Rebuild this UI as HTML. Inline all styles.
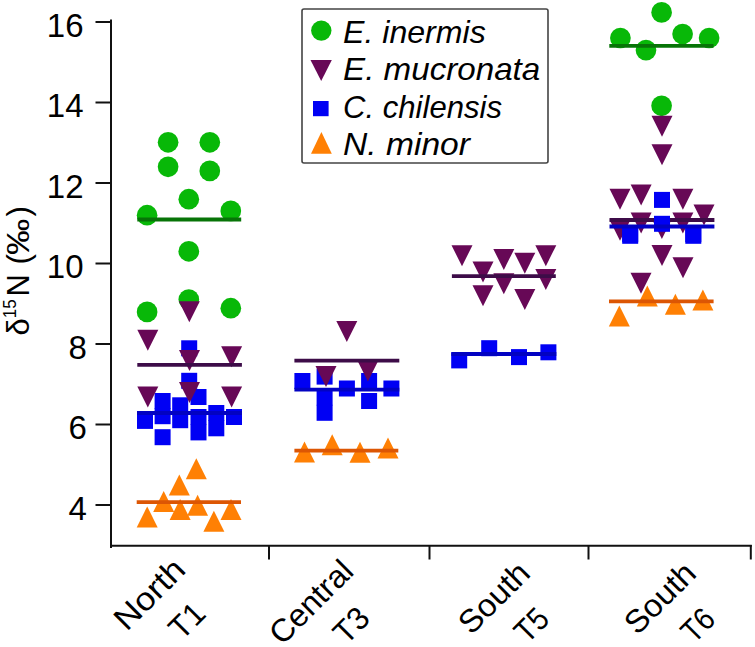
<!DOCTYPE html>
<html><head><meta charset="utf-8"><style>
html,body{margin:0;padding:0;background:#fff;}
body{width:755px;height:647px;overflow:hidden;}
svg{display:block;}
text{font-family:"Liberation Sans",sans-serif;fill:#000;}
.tk{font-size:33px;}
.lg{font-size:30.5px;font-style:italic;}
.xl{font-size:32px;}
.yt{font-size:25px;}
</style></head><body>
<svg width="755" height="647" viewBox="0 0 755 647">
<rect width="755" height="647" fill="#fff"/>
<path d="M111 19.5V548" stroke="#111" stroke-width="2"/>
<path d="M110 545.7H751.8" stroke="#111" stroke-width="2"/>
<path d="M95.5 22H111" stroke="#111" stroke-width="2"/>
<path d="M95.5 102.5H111" stroke="#111" stroke-width="2"/>
<path d="M95.5 183H111" stroke="#111" stroke-width="2"/>
<path d="M95.5 263.5H111" stroke="#111" stroke-width="2"/>
<path d="M95.5 344H111" stroke="#111" stroke-width="2"/>
<path d="M95.5 424.5H111" stroke="#111" stroke-width="2"/>
<path d="M95.5 505H111" stroke="#111" stroke-width="2"/>
<path d="M269 545V559.5" stroke="#111" stroke-width="2"/>
<path d="M429.5 545V559.5" stroke="#111" stroke-width="2"/>
<path d="M588.5 545V559.5" stroke="#111" stroke-width="2"/>
<path d="M750.8 545V559.5" stroke="#111" stroke-width="2"/>
<text x="83.5" y="36.6" text-anchor="end" class="tk">16</text>
<text x="83.5" y="117.1" text-anchor="end" class="tk">14</text>
<text x="83.5" y="197.6" text-anchor="end" class="tk">12</text>
<text x="83.5" y="278.1" text-anchor="end" class="tk">10</text>
<text x="86.8" y="358.6" text-anchor="end" class="tk">8</text>
<text x="86.8" y="439.1" text-anchor="end" class="tk">6</text>
<text x="86.8" y="519.6" text-anchor="end" class="tk">4</text>
<circle cx="168.1" cy="142.3" r="10.35" fill="#08b808"/>
<circle cx="209.8" cy="142.3" r="10.35" fill="#08b808"/>
<circle cx="168.1" cy="166.8" r="10.35" fill="#08b808"/>
<circle cx="209.8" cy="170.9" r="10.35" fill="#08b808"/>
<circle cx="188.8" cy="199.2" r="10.35" fill="#08b808"/>
<circle cx="147.1" cy="215.2" r="10.35" fill="#08b808"/>
<circle cx="230.8" cy="210.9" r="10.35" fill="#08b808"/>
<circle cx="188.8" cy="251.3" r="10.35" fill="#08b808"/>
<circle cx="188.8" cy="299.5" r="10.35" fill="#08b808"/>
<circle cx="147.1" cy="311.9" r="10.35" fill="#08b808"/>
<circle cx="230.8" cy="308.2" r="10.35" fill="#08b808"/>
<rect x="181.2" y="340.3" width="16.0" height="16.0" fill="#0000f4"/>
<rect x="181.2" y="372.8" width="16.0" height="16.0" fill="#0000f4"/>
<rect x="137" y="411.3" width="16.0" height="16.0" fill="#0000f4"/>
<rect x="137" y="412.9" width="16.0" height="16.0" fill="#0000f4"/>
<rect x="154.6" y="393" width="16.0" height="16.0" fill="#0000f4"/>
<rect x="154.6" y="408.2" width="16.0" height="16.0" fill="#0000f4"/>
<rect x="154.6" y="429.2" width="16.0" height="16.0" fill="#0000f4"/>
<rect x="172.2" y="397.3" width="16.0" height="16.0" fill="#0000f4"/>
<rect x="172.2" y="412.2" width="16.0" height="16.0" fill="#0000f4"/>
<rect x="190.5" y="389" width="16.0" height="16.0" fill="#0000f4"/>
<rect x="190.5" y="409" width="16.0" height="16.0" fill="#0000f4"/>
<rect x="190.5" y="424.4" width="16.0" height="16.0" fill="#0000f4"/>
<rect x="208.3" y="405" width="16.0" height="16.0" fill="#0000f4"/>
<rect x="208.3" y="420.3" width="16.0" height="16.0" fill="#0000f4"/>
<rect x="226" y="409" width="16.0" height="16.0" fill="#0000f4"/>
<path d="M178.8 301.3H199.8L189.3 322.3Z" fill="#670856"/>
<path d="M137.3 329.8H158.3L147.8 350.8Z" fill="#670856"/>
<path d="M179.0 350.0H200.0L189.5 371.0Z" fill="#670856"/>
<path d="M221.1 346.3H242.1L231.6 367.3Z" fill="#670856"/>
<path d="M137.3 386.4H158.3L147.8 407.4Z" fill="#670856"/>
<path d="M179.0 382.0H200.0L189.5 403.0Z" fill="#670856"/>
<path d="M221.1 386.4H242.1L231.6 407.4Z" fill="#670856"/>
<path d="M196.3 458.3L206.8 479.3H185.8Z" fill="#ff8004"/>
<path d="M179.3 474.6L189.8 495.6H168.8Z" fill="#ff8004"/>
<path d="M163.7 491.0L174.2 512.0H153.2Z" fill="#ff8004"/>
<path d="M180.1 499.0L190.6 520.0H169.6Z" fill="#ff8004"/>
<path d="M197.6 494.8L208.1 515.8H187.1Z" fill="#ff8004"/>
<path d="M147.2 506.4L157.7 527.4H136.7Z" fill="#ff8004"/>
<path d="M213.9 510.7L224.4 531.7H203.4Z" fill="#ff8004"/>
<path d="M231.0 499.0L241.5 520.0H220.5Z" fill="#ff8004"/>
<path d="M137.3 219.5H241.2" stroke="#077407" stroke-width="3.8"/>
<path d="M137.3 364.8H241.9" stroke="#3d0c48" stroke-width="3.8"/>
<path d="M137 413H242" stroke="#0202c2" stroke-width="3.8"/>
<path d="M136.7 502.1H241" stroke="#dc5604" stroke-width="3.8"/>
<rect x="294.4" y="373" width="16.0" height="16.0" fill="#0000f4"/>
<rect x="316.6" y="368.6" width="16.0" height="16.0" fill="#0000f4"/>
<rect x="316.6" y="389.5" width="16.0" height="16.0" fill="#0000f4"/>
<rect x="316.6" y="404.8" width="16.0" height="16.0" fill="#0000f4"/>
<rect x="338.9" y="380.5" width="16.0" height="16.0" fill="#0000f4"/>
<rect x="361.1" y="373" width="16.0" height="16.0" fill="#0000f4"/>
<rect x="361.1" y="393" width="16.0" height="16.0" fill="#0000f4"/>
<rect x="383.4" y="380.5" width="16.0" height="16.0" fill="#0000f4"/>
<path d="M336.3 321.1H357.3L346.8 342.1Z" fill="#670856"/>
<path d="M315.5 365.9H336.5L326.0 386.9Z" fill="#670856"/>
<path d="M357.4 360.5H378.4L367.9 381.5Z" fill="#670856"/>
<path d="M304.5 441.6L315.0 462.6H294.0Z" fill="#ff8004"/>
<path d="M332.2 434.2L342.7 455.2H321.7Z" fill="#ff8004"/>
<path d="M360.0 441.8L370.5 462.8H349.5Z" fill="#ff8004"/>
<path d="M388.0 437.6L398.5 458.6H377.5Z" fill="#ff8004"/>
<path d="M294.4 360.7H399.3" stroke="#3d0c48" stroke-width="3.8"/>
<path d="M294.4 389.6H399.3" stroke="#0202c2" stroke-width="3.8"/>
<path d="M294.4 450.6H398.3" stroke="#dc5604" stroke-width="3.8"/>
<path d="M451.5 245.2H472.5L462.0 266.2Z" fill="#670856"/>
<path d="M472.5 261.4H493.5L483.0 282.4Z" fill="#670856"/>
<path d="M493.3 249.0H514.3L503.8 270.0Z" fill="#670856"/>
<path d="M514.3 252.7H535.3L524.8 273.7Z" fill="#670856"/>
<path d="M535.3 245.2H556.3L545.8 266.2Z" fill="#670856"/>
<path d="M472.5 285.2H493.5L483.0 306.2Z" fill="#670856"/>
<path d="M493.3 273.3H514.3L503.8 294.3Z" fill="#670856"/>
<path d="M514.3 288.9H535.3L524.8 309.9Z" fill="#670856"/>
<path d="M535.3 269.0H556.3L545.8 290.0Z" fill="#670856"/>
<path d="M451.9 276.1H555.8" stroke="#3d0c48" stroke-width="3.8"/>
<rect x="451.2" y="352.4" width="16.0" height="16.0" fill="#0000f4"/>
<rect x="481.2" y="340.2" width="16.0" height="16.0" fill="#0000f4"/>
<rect x="511" y="349.1" width="16.0" height="16.0" fill="#0000f4"/>
<rect x="540.4" y="344.3" width="16.0" height="16.0" fill="#0000f4"/>
<path d="M451.4 354H556.3" stroke="#0202c2" stroke-width="3.8"/>
<circle cx="661.6" cy="12.4" r="10.35" fill="#08b808"/>
<circle cx="620.4" cy="38" r="10.35" fill="#08b808"/>
<circle cx="646" cy="50.1" r="10.35" fill="#08b808"/>
<circle cx="682.6" cy="34" r="10.35" fill="#08b808"/>
<circle cx="709.1" cy="38" r="10.35" fill="#08b808"/>
<circle cx="661.6" cy="105.8" r="10.35" fill="#08b808"/>
<path d="M609.3 45.8H713.5" stroke="#077407" stroke-width="3.8"/>
<path d="M609.5 188.7H630.5L620.0 209.7Z" fill="#670856"/>
<path d="M630.6 184.5H651.6L641.1 205.5Z" fill="#670856"/>
<path d="M672.4 188.7H693.4L682.9 209.7Z" fill="#670856"/>
<path d="M693.5 204.6H714.5L704.0 225.6Z" fill="#670856"/>
<path d="M630.6 212.6H651.6L641.1 233.6Z" fill="#670856"/>
<path d="M672.4 212.6H693.4L682.9 233.6Z" fill="#670856"/>
<path d="M609.5 219.7H630.5L620.0 240.7Z" fill="#670856"/>
<path d="M651.4 218.0H672.4L661.9 239.0Z" fill="#670856"/>
<path d="M651.5 245.1H672.5L662.0 266.1Z" fill="#670856"/>
<path d="M672.5 257.2H693.5L683.0 278.2Z" fill="#670856"/>
<path d="M630.5 272.7H651.5L641.0 293.7Z" fill="#670856"/>
<path d="M651.5 115.8H672.5L662.0 136.8Z" fill="#670856"/>
<path d="M651.5 144.2H672.5L662.0 165.2Z" fill="#670856"/>
<path d="M609.5 220H714.4" stroke="#3d0c48" stroke-width="3.8"/>
<rect x="654" y="191.9" width="16.0" height="16.0" fill="#0000f4"/>
<rect x="654" y="215.8" width="16.0" height="16.0" fill="#0000f4"/>
<rect x="622.2" y="226.1" width="16.0" height="16.0" fill="#0000f4"/>
<rect x="622.2" y="227.8" width="16.0" height="16.0" fill="#0000f4"/>
<rect x="685.3" y="226.1" width="16.0" height="16.0" fill="#0000f4"/>
<rect x="685.3" y="227.8" width="16.0" height="16.0" fill="#0000f4"/>
<path d="M609.5 226.5H714.4" stroke="#0202c2" stroke-width="3.8"/>
<path d="M647.3 285.4L657.8 306.4H636.8Z" fill="#ff8004"/>
<path d="M675.4 293.7L685.9 314.7H664.9Z" fill="#ff8004"/>
<path d="M702.9 289.4L713.4 310.4H692.4Z" fill="#ff8004"/>
<path d="M619.3 305.4L629.8 326.4H608.8Z" fill="#ff8004"/>
<path d="M609 301.4H713.6" stroke="#dc5604" stroke-width="3.8"/>
<rect x="302" y="9" width="246" height="154" rx="2" fill="#fff" stroke="#444" stroke-width="1.6"/>
<circle cx="321.3" cy="30.6" r="10.2" fill="#08b808"/>
<path d="M310.5 60H331.8L321.2 81Z" fill="#670856"/>
<rect x="313" y="101" width="15.6" height="15.2" fill="#0000f4"/>
<path d="M321.4 132L331.8 153.7H311Z" fill="#ff8004"/>
<text x="343" y="42.7" class="lg" textLength="142.7" lengthAdjust="spacingAndGlyphs">E. inermis</text>
<text x="343" y="79.6" class="lg" textLength="197.3" lengthAdjust="spacingAndGlyphs">E. mucronata</text>
<text x="343" y="117.8" class="lg" textLength="159" lengthAdjust="spacingAndGlyphs">C. chilensis</text>
<text x="343" y="154.6" class="lg" textLength="127" lengthAdjust="spacingAndGlyphs">N. minor</text>
<g transform="rotate(-45)">
<text x="-357.2" y="536.6" class="xl" textLength="85.5" lengthAdjust="spacingAndGlyphs">North</text>
<text x="-324.9" y="582.0" class="xl" textLength="36.4" lengthAdjust="spacingAndGlyphs">T1</text>
<text x="-257.5" y="656.5" class="xl" textLength="103.5" lengthAdjust="spacingAndGlyphs">Central</text>
<text x="-211.7" y="701.4" class="xl" textLength="36.0" lengthAdjust="spacingAndGlyphs">T3</text>
<text x="-116.2" y="782.8" class="xl" textLength="85.8" lengthAdjust="spacingAndGlyphs">South</text>
<text x="-82.9" y="828.7" class="xl" textLength="33.6" lengthAdjust="spacingAndGlyphs">T5</text>
<text x="0.9" y="900.4" class="xl" textLength="85.9" lengthAdjust="spacingAndGlyphs">South</text>
<text x="35.0" y="946.3" class="xl" textLength="32.8" lengthAdjust="spacingAndGlyphs">T6</text>
</g>
<g transform="rotate(-90)">
<text x="-335.5" y="29.2" font-size="31">&#948;</text>
<text x="-318.3" y="16.2" font-size="19" textLength="18.9" lengthAdjust="spacingAndGlyphs">15</text>
<text x="-296.5" y="29.2" font-size="31">N</text>
<text x="-264.5" y="29.2" font-size="31">(</text>
<text x="-255.0" y="29.2" font-size="31" textLength="36.3" lengthAdjust="spacingAndGlyphs">&#8240;</text>
<text x="-216.5" y="29.2" font-size="31">)</text>
</g>
</svg>
</body></html>
